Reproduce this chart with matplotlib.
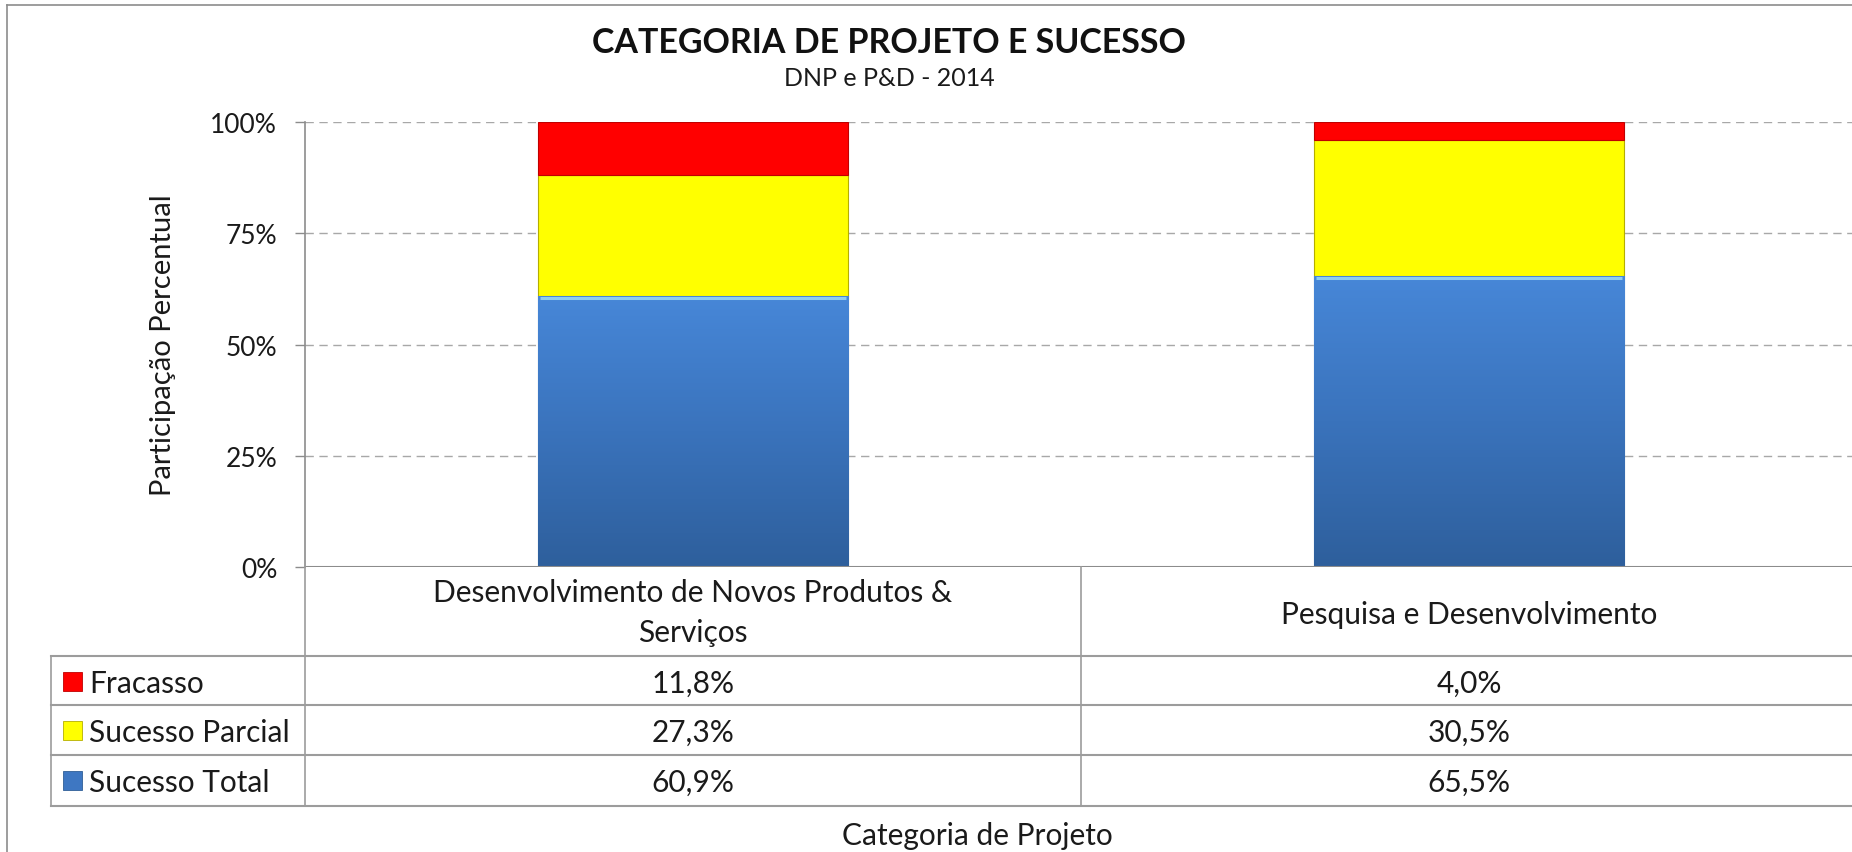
import matplotlib.pyplot as plt
import numpy as np
from matplotlib.colors import LinearSegmentedColormap
from matplotlib.lines import Line2D
from matplotlib.patches import Rectangle

# data
categories = ["Desenvolvimento de Novos Produtos &\nServiços", "Pesquisa e Desenvolvimento"]
series = ["Fracasso", "Sucesso Parcial", "Sucesso Total"]
sucesso_total = [60.9, 65.5]
sucesso_parcial = [27.3, 30.5]
fracasso = [11.8, 4.0]
labels_total = ["60,9%", "65,5%"]
labels_parcial = ["27,3%", "30,5%"]
labels_fracasso = ["11,8%", "4,0%"]
yticks = [0, 25, 50, 75, 100]
ytick_labels = ["0%", "25%", "50%", "75%", "100%"]

plt.rcParams['font.family'] = ['Lato', 'DejaVu Sans']

W, H = 1852, 853
fig = plt.figure(figsize=(W / 100, H / 100), dpi=100)


def fx(px):
    return px / W


def fy(py):
    return 1 - py / H


txt = '#1a1a1a'

# plot area: axis at x=305, 100% at y=123, 0% at y=568 (pixels)
ax = fig.add_axes([fx(305), fy(568), (1857 - 305) / W, (568 - 123) / H])
x = np.arange(len(categories))
bw = 0.4

blue = ax.bar(x, sucesso_total, bw, color='#3E77C2', edgecolor='#2F5E96', linewidth=0.8, zorder=3)
bottom2 = np.array(sucesso_total)
yellow = ax.bar(x, sucesso_parcial, bw, bottom=bottom2, color='#FFFF00', edgecolor='#B5AE00',
                linewidth=0.8, zorder=3)
bottom3 = bottom2 + np.array(sucesso_parcial)
red = ax.bar(x, fracasso, bw, bottom=bottom3, color='#FF0000', edgecolor='#C00000',
             linewidth=0.8, zorder=3)

# gradient on blue bars
cmap = LinearSegmentedColormap.from_list('b', ['#2E5F9C', '#3A73BC', '#4787D8'])
grad = np.linspace(0, 1, 256).reshape(-1, 1)
for p in blue.patches:
    x0, y0, w, h = p.get_x(), p.get_y(), p.get_width(), p.get_height()
    im = ax.imshow(grad, cmap=cmap, origin='lower', aspect='auto',
                   extent=[x0, x0 + w, y0, y0 + h], zorder=3.5)
    im.set_clip_path(p)
    ax.plot([x0 + 0.003, x0 + w - 0.003], [y0 + h - 0.5, y0 + h - 0.5], color='#8ECDF2',
            lw=2.2, zorder=4, solid_capstyle='butt')

ax.set_xlim(-0.5, 1.5)
ax.set_ylim(0, 100)
ax.set_yticks(yticks)
ax.set_yticklabels(ytick_labels, fontsize=19, color=txt)
ax.set_xticks([])
ax.tick_params(axis='y', length=7, width=1, color='#8C8C8C', pad=13)
for s in ['top', 'right', 'bottom']:
    ax.spines[s].set_visible(False)
ax.spines['left'].set_color('#8C8C8C')
ax.spines['left'].set_linewidth(1.2)
for t in yticks[1:]:
    ax.axhline(t, color='#A8A8A8', lw=1, ls=(0, (6, 4)), zorder=1)
ax.axhline(0, color='#8C8C8C', lw=1.5, zorder=5)

fig.text(fx(163), fy(345), "Participação Percentual", fontsize=21, rotation=90,
         ha='center', va='center', color=txt)

# title
fig.text(fx(889), fy(53), "CATEGORIA DE PROJETO E SUCESSO", fontsize=24.5, fontweight='bold',
         ha='center', va='baseline', color='#111111')
fig.text(fx(889), fy(86), "DNP e P&D - 2014", fontsize=18, ha='center', va='baseline', color=txt)

# data table
rows = [568, 657, 706, 756, 807]
lc = '#9C9C9C'
fig.add_artist(Line2D([fx(305), fx(305)], [fy(568), fy(807)], color=lc, lw=1.2))
fig.add_artist(Line2D([fx(1081), fx(1081)], [fy(568), fy(807)], color=lc, lw=1.2))
fig.add_artist(Line2D([fx(51), fx(51)], [fy(657), fy(807)], color=lc, lw=1.2))
for r in rows[1:]:
    fig.add_artist(Line2D([fx(51), 1], [fy(r), fy(r)], color=lc, lw=1.5))

col_centers = [693, 1469]
fs = 21.5
for cx, cat in zip(col_centers, categories):
    lines = cat.split('\n')
    if len(lines) == 2:
        base = [602, 642]
    else:
        base = [624]
    for ln, b in zip(lines, base):
        fig.text(fx(cx), fy(b), ln, fontsize=fs, ha='center', va='baseline', color=txt)

table_rows = [
    (series[0], labels_fracasso, '#FF0000', '#C00000'),
    (series[1], labels_parcial, '#FFFF00', '#B5AE00'),
    (series[2], labels_total, '#3E77C2', '#2F5E96'),
]
for i, (name, vals, col, ec) in enumerate(table_rows):
    top = rows[i + 1]
    fig.add_artist(Rectangle((fx(63), fy(top + 35)), 19 / W, 19 / H, facecolor=col,
                             edgecolor=ec, lw=0.6))
    fig.text(fx(89), fy(top + 36), name, fontsize=fs, ha='left', va='baseline', color=txt)
    for cx, v in zip(col_centers, vals):
        fig.text(fx(cx), fy(top + 36), v, fontsize=fs, ha='center', va='baseline', color=txt)

fig.text(fx(842), fy(845), "Categoria de Projeto", fontsize=fs, ha='left', va='baseline',
         color=txt)

# outer chart border
fig.add_artist(Line2D([fx(7), fx(7)], [fy(6), fy(853)], color='#8C8C8C', lw=1.2))
fig.add_artist(Line2D([fx(7), 1], [fy(6), fy(6)], color='#8C8C8C', lw=1.2))

fig.savefig('out.png', dpi=100)
